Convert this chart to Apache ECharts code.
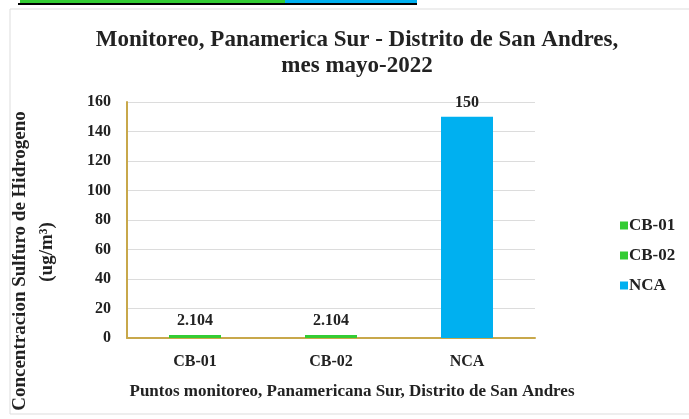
<!DOCTYPE html>
<html><head><meta charset="utf-8">
<script src="https://cdn.jsdelivr.net/npm/echarts@6/dist/echarts.min.js"></script>
<style>html,body{margin:0;padding:0;background:#fff}#c{width:689px;height:419px}</style>
</head><body><div id="c"></div>
<script>
const categories = ['CB-01', 'CB-02', 'NCA'];
const seriesNames = ['CB-01', 'CB-02', 'NCA'];
const seriesValues = [2.104, 2.104, 150];
const labelTexts = ['2.104', '2.104', '150'];
const yTicks = [0, 20, 40, 60, 80, 100, 120, 140, 160];
const colors = ['#33cc33', '#33cc33', '#00b0f0'];

const F = '"Liberation Serif", "Times New Roman", serif';
const chart = echarts.init(document.getElementById('c'), null, {renderer: 'canvas'});
const series = seriesNames.map((name, i) => ({
  name: name,
  type: 'bar',
  stack: 'all',
  barWidth: 52,
  itemStyle: {color: colors[i]},
  data: categories.map((c, j) => j === i ? seriesValues[i] : null),
  label: {show: true, position: 'top', distance: 6, formatter: () => labelTexts[i],
    fontFamily: F, fontWeight: 'bold', fontSize: 16, color: '#222'}
}));
chart.setOption({
  animation: false,
  backgroundColor: '#fff',
  grid: {left: 127, right: 154, top: 102, bottom: 81},
  legend: {orient: 'vertical', left: 615, top: 212, itemWidth: 8, itemHeight: 8, itemGap: 13, icon: 'rect',
    textStyle: {fontFamily: F, fontWeight: 'bold', fontSize: 17, color: '#222', padding: [0, 0, 0, -4]},
    data: seriesNames},
  xAxis: {type: 'category', data: categories,
    name: 'Puntos monitoreo, Panamericana Sur, Distrito de San Andres', nameLocation: 'middle', nameGap: 45,
    nameTextStyle: {fontFamily: F, fontWeight: 'bold', fontSize: 17, color: '#222', padding: [0, 0, 0, 42]},
    axisLine: {lineStyle: {color: '#c8a84b', width: 2}}, axisTick: {show: false},
    axisLabel: {fontFamily: F, fontWeight: 'bold', fontSize: 16, color: '#222', margin: 16}},
  yAxis: {type: 'value', min: 0, max: 160, interval: 20,
    axisLine: {show: true, lineStyle: {color: '#c8a84b', width: 2}}, axisTick: {show: false},
    splitLine: {lineStyle: {color: '#dcdcdc'}},
    axisLabel: {fontFamily: F, fontWeight: 'bold', fontSize: 16, color: '#222', margin: 16,
      formatter: v => yTicks.includes(v) ? String(v) : ''}},
  graphic: [
    {type: 'rect', shape: {x: 10, y: 9, width: 690, height: 405}, style: {fill: 'none', stroke: '#dddddd', lineWidth: 1}, z: -1},
    {type: 'rect', shape: {x: 20, y: 0, width: 265, height: 3}, style: {fill: '#33cc33'}},
    {type: 'rect', shape: {x: 285, y: 0, width: 132, height: 3}, style: {fill: '#00b0f0'}},
    {type: 'rect', shape: {x: 18, y: 3, width: 399, height: 2}, style: {fill: '#000'}},
    {type: 'text', x: 357, y: 27, style: {text: 'Monitoreo, Panamerica Sur - Distrito de San Andres,\nmes mayo-2022',
      font: 'bold 23px ' + F, lineHeight: 26, fill: '#222', align: 'center', verticalAlign: 'top'}},
    {type: 'text', x: 20, y: 261, rotation: Math.PI / 2, style: {text: 'Concentracion Sulfuro de Hidrogeno',
      font: 'bold 19px ' + F, fill: '#222', align: 'center', verticalAlign: 'middle'}},
    {type: 'text', x: 47, y: 252, rotation: Math.PI / 2, style: {text: '(ug/m³)',
      font: 'bold 19px ' + F, fill: '#222', align: 'center', verticalAlign: 'middle'}}
  ],
  series: series
});
</script></body></html>
